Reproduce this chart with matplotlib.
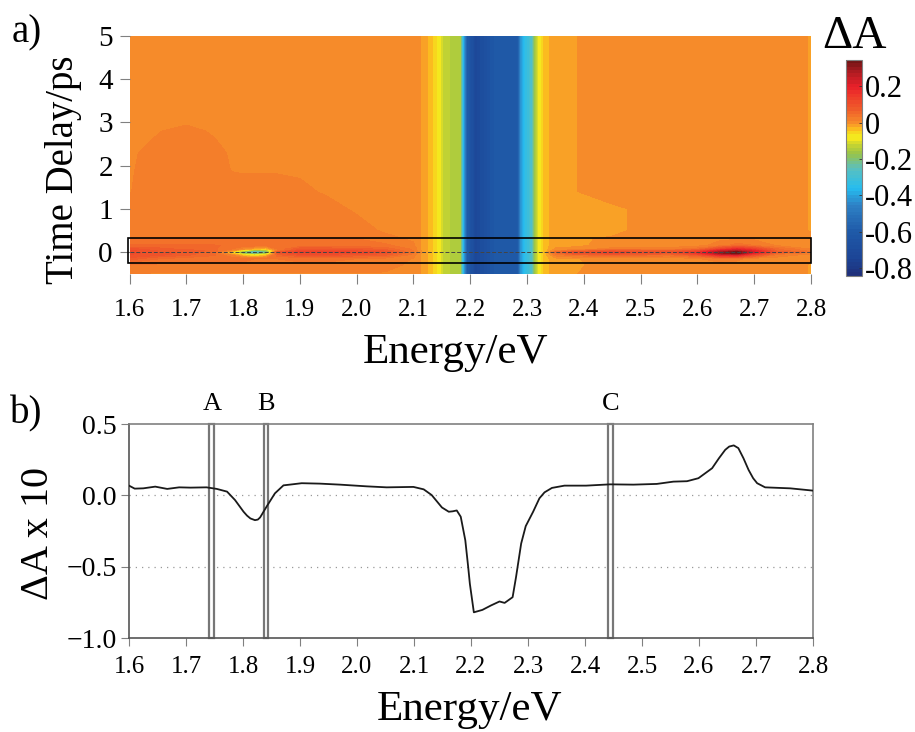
import matplotlib
matplotlib.use("Agg")
import matplotlib.pyplot as plt
from matplotlib.colors import LinearSegmentedColormap
from matplotlib.patches import Rectangle
import numpy as np

plt.rcParams['font.family'] = ['Liberation Serif', 'DejaVu Sans']

# ---------- panel a data ----------
E_left = [1.60, 1.65, 1.70, 1.75, 1.78, 1.80, 1.82, 1.84, 1.86, 1.90, 1.95, 2.00, 2.05, 2.10]
E_band = [2.115, 2.13, 2.144, 2.152, 2.182, 2.186, 2.195, 2.21, 2.24, 2.284, 2.288, 2.297, 2.309, 2.315, 2.322, 2.332]
E_right = [2.35, 2.381, 2.45, 2.55, 2.60, 2.64, 2.67, 2.70, 2.74, 2.80]
band_values = [-0.012, -0.035, -0.075, -0.13, -0.15, -0.30, -0.60, -0.72, -0.62, -0.60, -0.42, -0.34, -0.27, -0.15, -0.075, -0.035]

times = [-0.5, -0.3, -0.15, -0.07, -0.03, 0.0, 0.03, 0.07, 0.15, 0.3, 0.5, 1.0, 1.4, 1.9, 2.3, 2.8, 3.0, 5.0]

left_rows = [
    [.010, .010, .010, .010, .010, .010, .010, .010, .010, .010, .010, .010, .010, .008],
    [.030, .026, .025, .025, .025, .025, .025, .025, .025, .025, .025, .020, .016, .008],
    [.080, .050, .040, .040, .040, .035, .030, .030, .030, .035, .035, .030, .025, .010],
    [.100, .090, .070, .050, .010, -.05, -.10, -.05, .060, .090, .090, .080, .070, .020],
    [.110, .095, .080, .050, -.05, -.20, -.28, -.20, .080, .120, .120, .110, .090, .030],
    [.100, .085, .080, .050, -.05, -.20, -.28, -.20, .090, .130, .130, .120, .100, .030],
    [.110, .085, .080, .060, .000, -.12, -.25, -.22, .020, .110, .110, .100, .080, .030],
    [.090, .075, .060, .050, .030, .000, -.03, -.05, .030, .080, .080, .075, .060, .025],
    [.050, .050, .050, .050, .045, .040, .040, .030, .030, .035, .035, .035, .035, .015],
    [.030, .030, .030, .030, .030, .030, .030, .030, .030, .030, .030, .030, .018, .008],
    [.025, .025, .025, .025, .025, .025, .025, .025, .025, .025, .025, .020, .008, .008],
    [.018, .025, .025, .025, .025, .025, .025, .025, .025, .025, .018, .008, .008, .008],
    [.010, .025, .025, .025, .025, .025, .025, .025, .025, .016, .008, .008, .008, .008],
    [.008, .025, .025, .025, .010, .008, .008, .008, .008, .008, .008, .008, .008, .008],
    [.008, .018, .025, .018, .008, .008, .008, .008, .008, .008, .008, .008, .008, .008],
    [.008, .010, .018, .008, .008, .008, .008, .008, .008, .008, .008, .008, .008, .008],
    [.008, .008, .008, .008, .008, .008, .008, .008, .008, .008, .008, .008, .008, .008],
    [.008, .008, .008, .008, .008, .008, .008, .008, .008, .008, .008, .008, .008, .008],
]

right_rows = [
    [-.012, -.009, .005, .005, .005, .005, .005, .005, .005, -.009],
    [-.012, -.009, -.004, .002, .005, .005, .005, .005, .005, -.009],
    [-.012, -.009, .000, .000, .010, .020, .015, .005, .005, -.006],
    [.020, .040, .060, .040, .080, .180, .200, .100, .020, .005],
    [.040, .090, .110, .080, .150, .300, .345, .180, .050, .015],
    [.050, .090, .110, .090, .140, .280, .340, .220, .080, .040],
    [.010, .040, .080, .060, .100, .220, .260, .200, .060, .020],
    [-.005, -.005, .020, .020, .040, .120, .180, .130, .050, .010],
    [-.012, -.009, -.005, .000, .005, .020, .040, .030, .010, .003],
    [-.012, -.010, -.005, -.002, .003, .008, .010, .008, .005, .000],
    [-.012, -.012, -.012, .005, .005, .005, .005, .005, .005, -.009],
    [-.012, -.012, -.012, .005, .005, .005, .005, .005, .005, -.009],
    [-.012, -.009, .005, .005, .005, .005, .005, .005, .005, -.009],
    [-.012, -.009, .005, .005, .005, .005, .005, .005, .005, -.009],
    [-.012, -.009, .005, .005, .005, .005, .005, .005, .005, -.009],
    [-.012, -.009, .005, .005, .005, .005, .005, .005, .005, -.009],
    [-.012, -.009, .005, .005, .005, .005, .005, .005, .005, -.009],
    [-.012, -.009, .005, .005, .005, .005, .005, .005, .005, -.009],
]

cmap_values = [-0.842, -0.75, -0.6, -0.45, -0.36, -0.25, -0.17, -0.115, -0.09, -0.06, -0.035, -0.012,
               0.005, 0.03, 0.08, 0.15, 0.20, 0.28, 0.345]
cmap_colors = ['#1f2f7a', '#1c4496', '#1f5aa8', '#2e82c6', '#25bdf0', '#5bc0be', '#97c34a', '#c9d52f',
               '#f4e81e', '#f4e81e', '#fbb81f', '#f9a026', '#f68b2a', '#f47a2a', '#ef5b2a', '#ee3a2a',
               '#e8202a', '#b01c22', '#6e1414']
cbar_ticks = [0.2, 0, -0.2, -0.4, -0.6, -0.8]
cbar_labels = ['0.2', '0', '-0.2', '-0.4', '-0.6', '-0.8']

# ---------- panel b data ----------
spec_E = [1.600, 1.610, 1.625, 1.646, 1.667, 1.688, 1.708, 1.736, 1.754, 1.772, 1.786, 1.801, 1.807, 1.813, 1.821,
          1.826, 1.830, 1.842, 1.856, 1.871, 1.882, 1.903, 1.935, 1.970, 2.017, 2.052, 2.099, 2.117, 2.131, 2.149,
          2.161, 2.168, 2.175, 2.182, 2.190, 2.195, 2.198, 2.205, 2.220, 2.235, 2.250, 2.259, 2.273, 2.279, 2.288,
          2.296, 2.309, 2.320, 2.329, 2.342, 2.364, 2.402, 2.444, 2.485, 2.526, 2.555, 2.579, 2.599, 2.623,
          2.635, 2.646, 2.653, 2.661, 2.669, 2.678, 2.687, 2.695, 2.702, 2.716, 2.760, 2.800]
spec_dA = [.068, .047, .049, .061, .045, .056, .054, .056, .045, .026, -.033, -.115, -.142, -.162, -.174,
           -.170, -.155, -.075, .014, .070, .075, .085, .082, .075, .063, .056, .059, .042, .002, -.085,
           -.115, -.112, -.106, -.150, -.315, -.500, -.620, -.820, -.803, -.772, -.744, -.754, -.714, -.573, -.338,
           -.216, -.115, -.021, .021, .052, .068, .068, .077, .075, .080, .096, .099, .120, .190,
           .260, .319, .342, .350, .331, .260, .178, .120, .085, .056, .049, .033]
marker_names = ['A', 'B', 'C']
marker_low = [1.741, 1.836, 2.440]
marker_high = [1.750, 1.844, 2.449]

W, H = 915, 732
fig = plt.figure(figsize=(W / 100, H / 100), dpi=100, facecolor='white')

def axes_px(x0, y0, x1, y1):
    return fig.add_axes([x0 / W, 1 - y1 / H, (x1 - x0) / W, (y1 - y0) / H])

GREY = '#808080'
xt = [1.6 + 0.1 * i for i in range(13)]
xl = [f'{v:.1f}' for v in xt]

# ---------- panel a ----------
energies = np.array(E_left + E_band + E_right)
Z = np.array([l + band_values + r for l, r in zip(left_rows, right_rows)])
vmin, vmax = cmap_values[0], cmap_values[-1]
cmap = LinearSegmentedColormap.from_list(
    'dA', [((v - vmin) / (vmax - vmin), c) for v, c in zip(cmap_values, cmap_colors)], N=256)
levels = np.linspace(vmin, vmax, 65)

ax = axes_px(129.5, 36, 811, 273.6)
cf = ax.contourf(energies, times, Z, levels=levels, cmap=cmap, vmin=vmin, vmax=vmax)
ax.set_xlim(1.6, 2.8)
ax.set_ylim(-0.5, 5)
for s in ax.spines.values():
    s.set_visible(False)
ax.set_xticks(xt)
ax.set_xticklabels(xl, fontsize=18)
ax.set_yticks(range(6))
ax.set_yticklabels(['0', '1', '2', '3', '4', '5'], fontsize=21)
ax.tick_params(axis='x', length=7, width=0.8, color=GREY, pad=11)
ax.tick_params(axis='y', length=7, width=0.8, color=GREY, pad=5)
ax.axhline(0, color='#444444', lw=0.7, ls=(0, (4, 2)))
ax.add_patch(Rectangle((1.597, -0.26), 1.203, 0.585, fill=False, ec='black', lw=1.2, clip_on=False, zorder=5))
fig.text(456 / W, 1 - 353 / H, 'Energy/eV', fontsize=31, ha='center', va='center')
fig.text(64 / W, 1 - 170 / H, 'Time Delay/ps', rotation=90, fontsize=28, ha='center', va='center')

# ---------- colour bar ----------
cax = axes_px(846, 60, 862, 275.7)
cb = fig.colorbar(cf, cax=cax)
cb.set_ticks(cbar_ticks)
cb.set_ticklabels(cbar_labels)
cax.set_ylim(vmin, vmax)
cax.tick_params(axis='y', length=2, width=0.6, direction='in', color='#333333', labelsize=22, pad=2)
cb.outline.set_edgecolor(GREY)
cb.outline.set_linewidth(0.8)
fig.text(854 / W, 1 - 37 / H, 'ΔA', fontsize=34, ha='center', va='center')

# ---------- panel b ----------
bx = axes_px(129, 424, 813, 638)
bx.set_xlim(1.6, 2.8)
bx.set_ylim(-1.0, 0.5)
for v in (0, -0.5):
    bx.axhline(v, color='#999999', lw=0.9, ls=(0, (1, 4)), zorder=1)
for name, lo, hi in zip(marker_names, marker_low, marker_high):
    bx.add_patch(Rectangle((lo, -1.0), hi - lo, 1.5, fc='white', ec='#777777', lw=1.6, zorder=2, clip_on=False))
    bx.text((lo + hi) / 2, 0.56, name, fontsize=19, ha='center', va='bottom')
bx.plot(spec_E, spec_dA, color='#1a1a1a', lw=1.3, zorder=3)
bx.set_xticks(xt)
bx.set_xticklabels(xl, fontsize=18)
bx.set_yticks([-1.0, -0.5, 0.0, 0.5])
bx.set_yticklabels(['−1.0', '−0.5', '0.0', '0.5'], fontsize=20)
bx.tick_params(axis='x', length=6, width=0.8, color=GREY, pad=7)
bx.tick_params(axis='y', length=6, width=0.8, color=GREY, pad=3)
bx.spines['left'].set_color('#555555')
bx.spines['bottom'].set_color('#555555')
bx.spines['top'].set_color(GREY)
bx.spines['right'].set_color(GREY)
for s in bx.spines.values():
    s.set_linewidth(1.2)
fig.text(470 / W, 1 - 710 / H, 'Energy/eV', fontsize=31, ha='center', va='center')
fig.text(38 / W, 1 - 533 / H, 'ΔA x 10', rotation=90, fontsize=29, ha='center', va='center')

fig.text(12 / W, 1 - 33 / H, 'a)', fontsize=28, ha='left', va='center')
fig.text(10 / W, 1 - 414 / H, 'b)', fontsize=28, ha='left', va='center')

fig.savefig('out.png', dpi=100, facecolor='white')
